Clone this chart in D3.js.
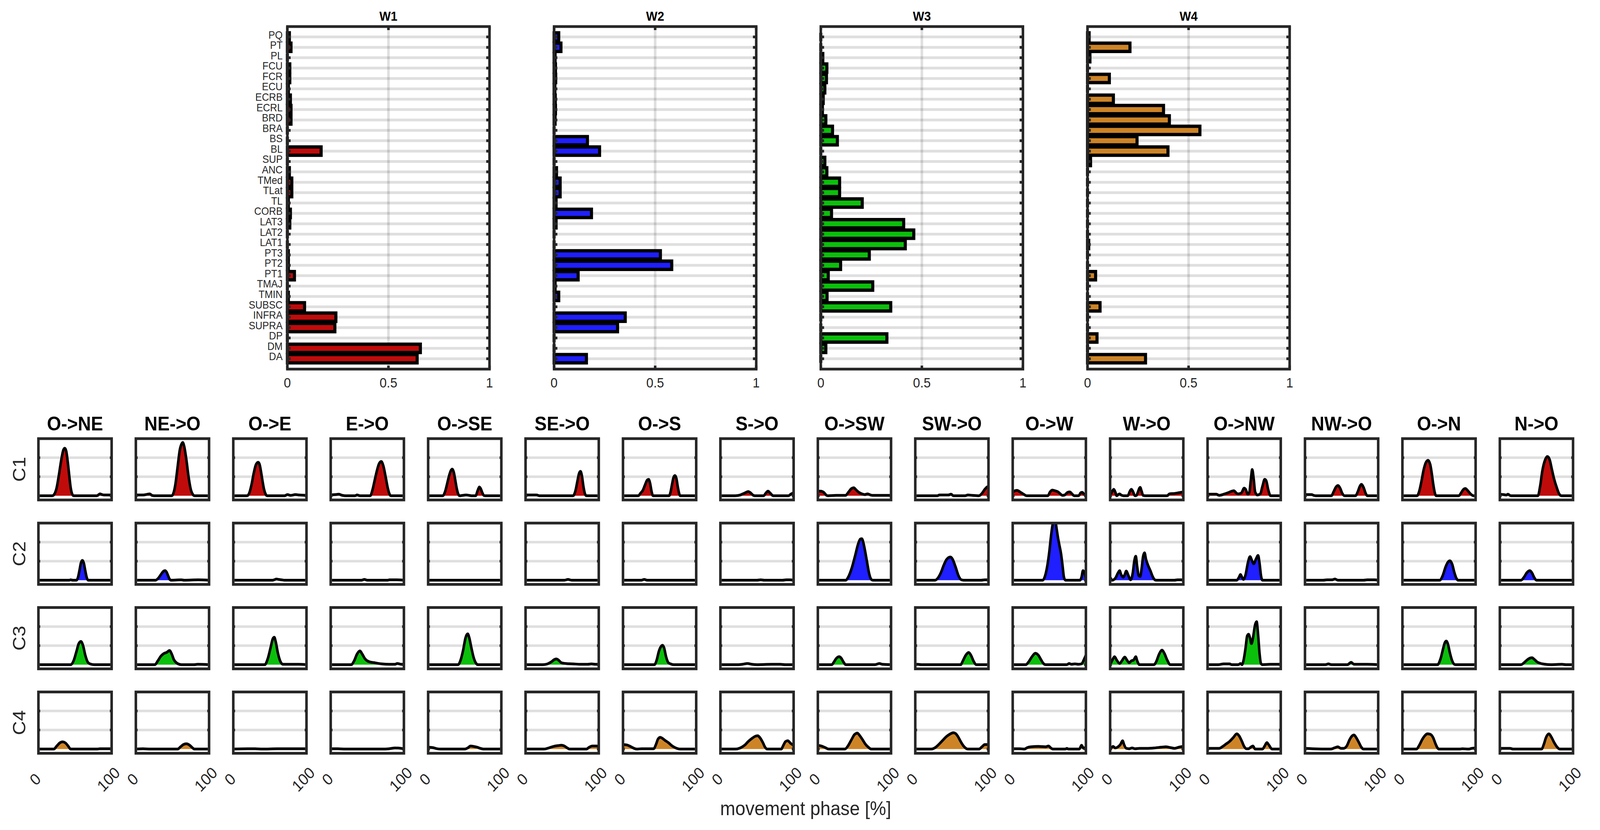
<!DOCTYPE html>
<html>
<head>
<meta charset="utf-8">
<script src="https://cdn.jsdelivr.net/npm/d3@7/dist/d3.min.js"></script>
<style>
  html, body { margin: 0; padding: 0; background: #fff; overflow: hidden; }
  #chart { width: 100vw; height: 100vh; }
  svg { display: block; }
  text { font-family: "Liberation Sans", Arial, sans-serif; }
</style>
</head>
<body>
<div id="chart"></div>
<script>
// muscle weights of the four synergies
var muscles = ["PQ", "PT", "PL", "FCU", "FCR", "ECU", "ECRB", "ECRL", "BRD", "BRA", "BS", "BL",
    "SUP", "ANC", "TMed", "TLat", "TL", "CORB", "LAT3", "LAT2", "LAT1", "PT3", "PT2", "PT1",
    "TMAJ", "TMIN", "SUBSC", "INFRA", "SUPRA", "DP", "DM", "DA"];
var weightTitles = ["W1", "W2", "W3", "W4"];
var W1 = [0.01, 0.018, 0, 0.012, 0.012, 0.005, 0.015, 0.018, 0.018, 0, 0, 0.167,
    0, 0.01, 0.022, 0.022, 0.005, 0.015, 0.012, 0, 0, 0.005, 0.005, 0.035,
    0, 0.005, 0.085, 0.24, 0.235, 0, 0.658, 0.642];
var W2 = [0.023, 0.034, 0.005, 0.007, 0.008, 0.004, 0.006, 0.007, 0.005, 0, 0.165, 0.225,
    0, 0.012, 0.03, 0.03, 0.01, 0.185, 0.01, 0, 0, 0.526, 0.582, 0.119,
    0.005, 0.023, 0, 0.352, 0.314, 0, 0, 0.16];
var W3 = [0, 0, 0.01, 0.03, 0.028, 0.02, 0.012, 0.008, 0.025, 0.058, 0.082, 0,
    0.02, 0.03, 0.093, 0.093, 0.205, 0.053, 0.41, 0.46, 0.418, 0.24, 0.098, 0.037,
    0.257, 0.031, 0.346, 0, 0, 0.327, 0.025, 0];
var W4 = [0.008, 0.21, 0.012, 0, 0.108, 0, 0.128, 0.376, 0.405, 0.556, 0.245, 0.398,
    0.015, 0, 0, 0, 0, 0, 0, 0, 0.006, 0, 0, 0.04,
    0, 0, 0.062, 0, 0, 0.047, 0, 0.287];
var weightTicks = [0, 0.5, 1];

var synergyColors = ["#c00b0b", "#1f1fff", "#0cbf0c", "#cd8427"];
var synergyLabels = ["C1", "C2", "C3", "C4"];
var directions = ["O->NE", "NE->O", "O->E", "E->O", "O->SE", "SE->O", "O->S", "S->O",
    "O->SW", "SW->O", "O->W", "W->O", "O->NW", "NW->O", "O->N", "N->O"];
var phaseTicks = [0, 100];
var activationGrid = [0, 0.5, 1];

// activation profiles, [phase %, activation] read per direction
var C1 = [
    [[0,0],[19,0],[22,0.05],[25,0.22],[28,0.55],[31,0.92],[34,1.2],[36,1.25],[38,1.17],[40,0.9],[42,0.55],[44,0.22],[46,0.05],[48,0],[80,0],[84,0.05],[87,0.03],[90,0.02],[100,0.02]],
    [[0,0.02],[10,0.02],[16,0.04],[19,0.05],[22,0.01],[25,0],[49,0],[51,0.05],[54,0.3],[57,0.75],[60,1.2],[63,1.38],[64,1.4],[66,1.3],[69,0.95],[72,0.5],[75,0.17],[78,0.03],[80,0],[100,0]],
    [[0,0],[19,0],[22,0.08],[25,0.3],[28,0.6],[31,0.82],[34,0.88],[36,0.82],[38,0.62],[40,0.38],[42,0.17],[44,0.05],[46,0],[70,0],[74,0.03],[78,0.01],[85,0.03],[90,0.02],[100,0.01]],
    [[0,0.02],[6,0.03],[11,0.04],[16,0.01],[20,0],[33,0],[36,0.02],[40,0],[54,0],[57,0.15],[60,0.4],[63,0.65],[66,0.84],[69,0.9],[72,0.78],[75,0.5],[78,0.2],[80,0.06],[82,0],[100,0]],
    [[0,0],[20,0],[23,0.1],[26,0.32],[29,0.55],[31,0.66],[33,0.7],[35,0.62],[37,0.42],[39,0.2],[41,0.05],[43,0],[47,0.01],[52,0.02],[56,0.01],[60,0],[65,0],[67,0.1],[69,0.2],[70,0.23],[72,0.18],[74,0.08],[76,0.01],[78,0],[100,0]],
    [[0,0.02],[15,0.02],[19,0],[65,0],[68,0.12],[71,0.4],[73,0.58],[75,0.64],[77,0.52],[79,0.25],[81,0.06],[83,0],[100,0]],
    [[0,0],[21,0],[24,0.07],[27,0.14],[30,0.28],[33,0.41],[35,0.43],[37,0.33],[39,0.12],[41,0],[63,0],[65,0.1],[67,0.3],[69,0.48],[71,0.53],[73,0.45],[75,0.22],[77,0.04],[78,0],[100,0]],
    [[0,0],[20,0],[27,0.02],[33,0.07],[38,0.11],[41,0.08],[45,0.01],[47,0],[59,0],[62,0.07],[65,0.12],[68,0.07],[71,0.01],[72,0],[93,0],[96,0.04],[100,0.08]],
    [[0,0.12],[4,0.12],[8,0.09],[12,0.01],[14,0],[25,0.01],[38,0.01],[42,0.1],[46,0.19],[49,0.21],[52,0.16],[56,0.09],[60,0.05],[64,0.03],[68,0.05],[72,0.02],[75,0.01],[100,0.01]],
    [[0,0],[30,0],[33,0.02],[45,0.02],[49,0.04],[52,0],[68,0],[72,0.02],[78,0.01],[87,0],[91,0.06],[95,0.17],[98,0.23],[100,0.25]],
    [[0,0.1],[3,0.13],[6,0.14],[10,0.1],[15,0.04],[19,0],[48,0],[51,0.1],[54,0.15],[58,0.13],[62,0.1],[65,0.05],[68,0.01],[71,0.02],[75,0.09],[78,0.1],[81,0.05],[84,0],[90,0],[93,0.08],[95,0.09],[98,0.03],[100,0.02]],
    [[0,0],[3,0.12],[5,0.17],[7,0.1],[9,0],[11,0.03],[13,0.05],[15,0.02],[18,0],[24,0],[27,0.12],[29,0.17],[31,0.12],[34,0],[36,0.01],[38,0.1],[40,0.2],[41,0.22],[43,0.12],[45,0.01],[48,0],[78,0],[81,0.05],[88,0.06],[94,0.08],[100,0.1]],
    [[0,0.04],[6,0.04],[12,0.04],[16,0.01],[22,0.04],[28,0.08],[33,0.12],[36,0.13],[40,0.06],[42,0.05],[46,0.07],[50,0.2],[52,0.17],[55,0.04],[57,0.08],[59,0.4],[61,0.69],[63,0.45],[65,0.1],[68,0.02],[72,0.05],[75,0.25],[78,0.43],[80,0.4],[83,0.15],[86,0],[100,0]],
    [[0,0.03],[5,0.03],[9,0.03],[12,0.01],[15,0],[36,0],[39,0.1],[42,0.22],[45,0.27],[48,0.2],[51,0.06],[54,0],[69,0],[72,0.1],[75,0.25],[77,0.3],[80,0.22],[83,0.06],[85,0],[100,0]],
    [[0,0],[20,0],[23,0.12],[26,0.38],[29,0.68],[32,0.87],[35,0.93],[38,0.82],[40,0.6],[42,0.32],[44,0.1],[46,0],[77,0],[80,0.07],[83,0.16],[86,0.19],[89,0.14],[93,0.05],[97,0],[100,0]],
    [[0,0.04],[5,0.03],[9,0.02],[11,0.04],[13,0.02],[15,0],[52,0],[55,0.25],[58,0.65],[62,0.95],[65,1.03],[68,0.95],[71,0.7],[74,0.45],[78,0.2],[81,0.05],[84,0],[100,0]]
];
var C2 = [
    [[0,0],[42,0],[44,0.01],[47,0],[52,0],[54,0.07],[56,0.25],[58,0.45],[60,0.52],[62,0.45],[64,0.25],[66,0.07],[68,0],[100,0]],
    [[0,0],[27,0],[31,0.06],[35,0.17],[38,0.24],[40,0.25],[42,0.21],[44,0.12],[46,0.03],[48,0],[62,0.01],[66,0],[85,0.01],[100,0]],
    [[0,0],[54,0],[57,0.02],[59,0.03],[62,0.02],[66,0.01],[70,0],[100,0]],
    [[0,0],[42,0],[46,0.02],[50,0],[78,0],[80,0.01],[90,0.01],[100,0]],
    [[0,0],[100,0]],
    [[0,0],[53,0],[58,0.02],[63,0],[100,0]],
    [[0,0],[25,0],[29,0.02],[33,0],[100,0]],
    [[0,0],[50,0],[55,0.01],[60,0],[85,0],[90,0.01],[95,0.01],[100,0]],
    [[0,0],[38,0],[42,0.1],[46,0.3],[51,0.65],[55,0.95],[58,1.08],[60,1.09],[62,1.0],[64,0.82],[67,0.5],[70,0.18],[73,0.02],[75,0],[100,0]],
    [[0,0],[27,0],[31,0.06],[35,0.2],[39,0.4],[43,0.55],[48,0.61],[51,0.55],[55,0.35],[59,0.12],[63,0.01],[66,0],[90,0],[95,0.01],[100,0.01]],
    [[0,0],[41,0],[44,0.1],[47,0.35],[50,0.75],[52,1.1],[54,1.4],[56,1.58],[58,1.58],[60,1.35],[62,1.1],[64,0.9],[66,0.7],[68,0.4],[70,0.08],[72,0],[92,0],[94,0.08],[96,0.25],[98,0.2],[100,0.05]],
    [[0,0.08],[3,0],[7,0.05],[11,0.2],[13,0.25],[15,0.15],[18,0.08],[20,0.15],[22,0.24],[25,0.12],[28,0.01],[31,0.2],[33,0.5],[35,0.63],[37,0.35],[39,0.12],[41,0.1],[43,0.3],[45,0.62],[47,0.72],[49,0.55],[52,0.38],[55,0.25],[58,0.1],[61,0.01],[63,0],[88,0],[92,0.01],[100,0.01]],
    [[0,0],[40,0],[43,0.08],[45,0.15],[47,0.08],[49,0.02],[52,0.15],[55,0.45],[58,0.62],[61,0.5],[63,0.43],[66,0.55],[69,0.65],[71,0.45],[73,0.12],[75,0],[100,0]],
    [[0,0],[25,0],[30,0.01],[37,0.01],[41,0.03],[45,0],[80,0],[85,0.01],[95,0.01],[100,0]],
    [[0,0],[51,0],[55,0.12],[59,0.35],[62,0.47],[65,0.51],[68,0.42],[71,0.2],[74,0.04],[76,0],[100,0]],
    [[0,0],[29,0],[33,0.08],[37,0.2],[41,0.25],[44,0.19],[47,0.07],[50,0],[100,0]]
];
var C3 = [
    [[0,0],[44,0],[48,0.1],[52,0.35],[55,0.55],[58,0.61],[61,0.5],[64,0.25],[68,0.05],[72,0.01],[76,0],[100,0]],
    [[0,0],[26,0],[30,0.1],[34,0.22],[38,0.29],[42,0.32],[46,0.37],[49,0.28],[52,0.13],[56,0.04],[62,0],[80,0],[84,0.01],[100,0]],
    [[0,0],[43,0],[47,0.15],[51,0.45],[54,0.68],[56,0.72],[58,0.6],[61,0.3],[64,0.1],[68,0.01],[80,0.01],[90,0.01],[100,0]],
    [[0,0],[28,0],[32,0.1],[36,0.28],[40,0.36],[43,0.28],[47,0.15],[52,0.08],[60,0.05],[70,0.02],[80,0.01],[88,0.01],[91,0.03],[96,0.01],[100,0.01]],
    [[0,0],[41,0],[44,0.1],[48,0.4],[51,0.7],[54,0.81],[56,0.72],[59,0.45],[62,0.2],[65,0.05],[68,0],[100,0]],
    [[0,0],[24,0],[30,0.02],[35,0.07],[39,0.13],[42,0.15],[45,0.12],[49,0.05],[55,0.03],[65,0.02],[75,0.01],[85,0.01],[90,0.02],[95,0.01],[100,0.01]],
    [[0,0],[43,0],[46,0.12],[49,0.35],[52,0.48],[54,0.51],[56,0.45],[59,0.2],[62,0.05],[65,0.02],[69,0],[100,0]],
    [[0,0],[25,0],[30,0.01],[37,0.03],[43,0.01],[50,0],[70,0.01],[82,0.01],[88,0],[100,0]],
    [[0,0],[19,0],[22,0.07],[25,0.16],[29,0.21],[32,0.17],[35,0.07],[38,0],[78,0],[84,0.03],[88,0.01],[100,0]],
    [[0,0],[3,0.01],[8,0],[62,0],[65,0.1],[69,0.25],[73,0.32],[76,0.25],[80,0.08],[83,0],[100,0]],
    [[0,0],[18,0],[22,0.08],[26,0.2],[31,0.3],[35,0.25],[39,0.12],[42,0.03],[45,0],[74,0],[77,0.03],[80,0.01],[85,0.02],[90,0.01],[94,0.02],[97,0.12],[100,0.25]],
    [[0,0],[3,0.12],[6,0.21],[9,0.12],[13,0.03],[16,0.1],[20,0.2],[23,0.12],[26,0.05],[29,0.1],[32,0.12],[35,0.21],[37,0.1],[40,0],[60,0],[63,0.08],[67,0.28],[71,0.38],[74,0.3],[78,0.12],[82,0],[100,0]],
    [[0,0],[15,0],[22,0.02],[30,0.02],[33,0],[42,0],[45,0.03],[47,0],[49,0.1],[52,0.45],[54,0.75],[56,0.8],[58,0.7],[60,0.55],[62,0.7],[65,1.05],[67,1.13],[69,0.8],[71,0.3],[73,0.03],[75,0],[85,0.01],[100,0.01]],
    [[0,0],[28,0],[32,0.02],[36,0],[58,0],[63,0.06],[67,0.01],[75,0.01],[85,0.01],[100,0]],
    [[0,0],[48,0],[52,0.15],[56,0.45],[58,0.58],[60,0.62],[62,0.55],[65,0.3],[68,0.1],[72,0],[100,0]],
    [[0,0],[29,0],[33,0.05],[37,0.12],[41,0.17],[44,0.18],[47,0.14],[51,0.07],[56,0.03],[62,0.01],[70,0],[85,0.01],[90,0],[100,0]]
];
var C4 = [
    [[0,0],[21,0],[25,0.08],[29,0.16],[33,0.19],[37,0.16],[41,0.07],[44,0],[80,0],[84,0.01],[100,0.01]],
    [[0,0],[10,0.01],[20,0],[57,0],[61,0.06],[65,0.12],[69,0.14],[73,0.11],[77,0.04],[80,0],[100,0]],
    [[0,0],[20,0.01],[30,0.01],[40,0],[60,0.01],[80,0.01],[100,0.01]],
    [[0,0.01],[10,0.01],[20,0],[70,0],[80,0.01],[88,0.03],[96,0.02],[100,0.01]],
    [[0,0.05],[6,0.04],[12,0.01],[17,0],[50,0],[54,0.03],[58,0.08],[62,0.07],[67,0.05],[71,0.02],[76,0],[100,0]],
    [[0,0],[25,0],[30,0.02],[38,0.07],[44,0.09],[49,0.1],[53,0.08],[57,0.03],[60,0],[83,0],[87,0.05],[91,0.08],[97,0.08],[100,0.07]],
    [[0,0.12],[5,0.11],[10,0.07],[15,0.02],[19,0],[25,0.01],[42,0.01],[45,0.12],[48,0.27],[51,0.31],[54,0.28],[58,0.22],[62,0.17],[66,0.1],[70,0.05],[75,0.01],[78,0],[100,0]],
    [[0,0],[20,0],[27,0.03],[33,0.1],[38,0.2],[43,0.28],[48,0.34],[51,0.35],[54,0.3],[58,0.17],[61,0.05],[64,0],[83,0],[86,0.1],[89,0.2],[92,0.22],[96,0.15],[100,0.1]],
    [[0,0.1],[5,0.08],[10,0.04],[15,0],[37,0],[41,0.08],[46,0.25],[50,0.38],[54,0.42],[57,0.36],[61,0.25],[65,0.13],[69,0.05],[73,0],[100,0]],
    [[0,0],[22,0],[28,0.05],[33,0.14],[38,0.24],[42,0.32],[47,0.39],[52,0.43],[55,0.41],[58,0.34],[62,0.2],[66,0.08],[70,0.01],[72,0],[87,0],[91,0.06],[95,0.12],[100,0.12]],
    [[0,0.01],[10,0.01],[16,0],[20,0.04],[25,0.06],[35,0.07],[45,0.06],[49,0.08],[52,0.03],[55,0],[72,0],[74,0.02],[76,0],[91,0],[94,0.1],[97,0.02],[100,0.06]],
    [[0,0],[2,0.04],[4,0.07],[7,0.03],[10,0.05],[14,0.12],[17,0.22],[19,0.12],[22,0.02],[26,0.01],[30,0.03],[34,0.01],[40,0.02],[50,0.02],[60,0.03],[70,0.05],[76,0.06],[82,0.04],[88,0.02],[94,0.05],[100,0.07]],
    [[0,0.02],[10,0.02],[16,0.02],[20,0.06],[25,0.13],[30,0.2],[35,0.3],[40,0.4],[43,0.35],[47,0.2],[50,0.07],[53,0.01],[56,0.01],[59,0.05],[62,0.08],[65,0],[75,0],[78,0.08],[81,0.17],[84,0.1],[88,0],[100,0]],
    [[0,0.02],[10,0.01],[35,0],[40,0.03],[45,0.06],[49,0.02],[53,0.02],[57,0.08],[61,0.25],[64,0.34],[67,0.37],[70,0.3],[74,0.16],[77,0.05],[80,0],[100,0]],
    [[0,0],[19,0],[23,0.1],[27,0.25],[31,0.36],[34,0.4],[38,0.39],[42,0.3],[45,0.15],[48,0.03],[50,0],[78,0],[82,0.01],[90,0],[95,0.02],[100,0.03]],
    [[0,0.02],[8,0.02],[14,0.02],[18,0],[57,0],[60,0.12],[63,0.3],[67,0.4],[70,0.33],[74,0.18],[78,0.06],[82,0],[100,0]]
];

var weights = [W1, W2, W3, W4];
var activations = [C1, C2, C3, C4];

var width = 4393;
var height = 2125;
var axisColor = '#262626';

// drawn in a fixed 4393x2125 frame that is scaled to the window
var svg = d3.select('#chart')
    .append('svg')
    .attr('viewBox', '0 0 ' + width + ' ' + height)
    .attr('preserveAspectRatio', 'none')
    .attr('width', '100%')
    .attr('height', '100%');

svg.append('rect')
    .attr('width', width)
    .attr('height', height)
    .attr('fill', '#fff');

function weightPanel(values, title, color, x0, showLabels) {
    var w = 555, top = 68, bottom = 945, tick = 9;
    var x = d3.scaleLinear().domain([0, 1]).range([x0, x0 + w]);
    var y = d3.scaleLinear().domain([0, muscles.length + 1]).range([top, bottom]);
    var barH = 0.8 * (y(1) - y(0));
    var g = svg.append('g');

    g.selectAll('.hgrid')
        .data(muscles)
    .enter().append('line')
        .attr('x1', x(0)).attr('x2', x(1))
        .attr('y1', function (d, i) { return y(i + 1); })
        .attr('y2', function (d, i) { return y(i + 1); })
        .attr('stroke', axisColor).attr('stroke-opacity', 0.15).attr('stroke-width', 7);

    g.selectAll('.vgrid')
        .data(weightTicks.slice(1, -1))
    .enter().append('line')
        .attr('x1', function (d) { return x(d); })
        .attr('x2', function (d) { return x(d); })
        .attr('y1', top).attr('y2', bottom)
        .attr('stroke', axisColor).attr('stroke-opacity', 0.15).attr('stroke-width', 7);

    // zero-length bars still show their edge, so draw them as paths
    g.selectAll('.bar')
        .data(values)
    .enter().append('path')
        .attr('d', function (d, i) {
            var yc = y(i + 1);
            return 'M' + x(0) + ',' + (yc - barH / 2) + 'H' + x(d) + 'V' + (yc + barH / 2) + 'H' + x(0) + 'Z';
        })
        .attr('fill', color)
        .attr('stroke', '#000')
        .attr('stroke-width', 8.5);

    g.selectAll('.ltick')
        .data(muscles)
    .enter().append('path')
        .attr('d', function (d, i) {
            var yc = y(i + 1);
            return 'M' + x(0) + ',' + yc + 'h' + tick + 'M' + x(1) + ',' + yc + 'h' + (-tick);
        })
        .attr('stroke', axisColor).attr('stroke-width', 7);

    g.selectAll('.xtick')
        .data(weightTicks)
    .enter().append('path')
        .attr('d', function (d) {
            return 'M' + x(d) + ',' + top + 'v' + tick + 'M' + x(d) + ',' + bottom + 'v' + (-tick);
        })
        .attr('stroke', axisColor).attr('stroke-width', 7);

    g.append('rect')
        .attr('x', x0).attr('y', top)
        .attr('width', w).attr('height', bottom - top)
        .attr('fill', 'none')
        .attr('stroke', axisColor)
        .attr('stroke-width', 7);

    g.selectAll('.xlabel')
        .data(weightTicks)
    .enter().append('text')
        .attr('x', function (d) { return x(d); })
        .attr('y', 992)
        .attr('text-anchor', 'middle')
        .attr('font-size', 35)
        .attr('fill', axisColor)
        .text(function (d) { return d; });

    g.append('text')
        .attr('x', x0 + w / 2)
        .attr('y', 53)
        .attr('text-anchor', 'middle')
        .attr('font-size', 33)
        .attr('font-weight', 'bold')
        .attr('fill', '#000')
        .text(title);

    if (showLabels) {
        g.selectAll('.ylabel')
            .data(muscles)
        .enter().append('text')
            .attr('x', x0 - 13)
            .attr('y', function (d, i) { return y(i + 1) + 4; })
            .attr('text-anchor', 'end')
            .attr('font-size', 27)
            .attr('fill', axisColor)
            .text(function (d) { return d; });
    }
}

function activationPanel(points, color, col, row) {
    var L = 105.5 + col * 267.5, W = 201;
    var T = 1123 + row * 216.2, H = 157;
    var x = d3.scaleLinear().domain([0, 100]).range([L, L + W]);
    var y = d3.scaleLinear().domain([-0.11, 1.5]).range([T + H, T]);
    var id = 'clip-' + row + '-' + col;
    var g = svg.append('g');

    g.append('clipPath').attr('id', id)
        .append('rect').attr('x', L).attr('y', T).attr('width', W).attr('height', H);

    g.selectAll('.grid')
        .data(activationGrid.slice(1))
    .enter().append('line')
        .attr('x1', L).attr('x2', L + W)
        .attr('y1', function (d) { return y(d); })
        .attr('y2', function (d) { return y(d); })
        .attr('stroke', axisColor).attr('stroke-opacity', 0.15).attr('stroke-width', 6.5);

    var area = d3.area()
        .x(function (d) { return x(d[0]); })
        .y0(y(0))
        .y1(function (d) { return y(d[1]); })
        .curve(d3.curveMonotoneX);

    var line = d3.line()
        .x(function (d) { return x(d[0]); })
        .y(function (d) { return y(d[1]); })
        .curve(d3.curveMonotoneX);

    var plot = g.append('g').attr('clip-path', 'url(#' + id + ')');
    plot.append('path')
        .attr('d', area(points))
        .attr('fill', color);
    plot.append('path')
        .attr('d', line(points))
        .attr('fill', 'none')
        .attr('stroke', '#000')
        .attr('stroke-width', 7)
        .attr('stroke-linejoin', 'round');

    g.selectAll('.tick')
        .data(activationGrid)
    .enter().append('path')
        .attr('d', function (d) {
            return 'M' + L + ',' + y(d) + 'h5M' + (L + W) + ',' + y(d) + 'h-5';
        })
        .attr('stroke', axisColor).attr('stroke-width', 6.5);

    g.append('rect')
        .attr('x', L).attr('y', T)
        .attr('width', W).attr('height', H)
        .attr('fill', 'none')
        .attr('stroke', axisColor)
        .attr('stroke-width', 7);

    if (row === 0) {
        g.append('text')
            .attr('x', L + W / 2)
            .attr('y', 1102)
            .attr('text-anchor', 'middle')
            .attr('font-size', 50)
            .attr('font-weight', 'bold')
            .attr('fill', '#000')
            .text(directions[col]);
    }

    if (col === 0) {
        g.append('text')
            .attr('transform', 'translate(52,' + (T + H / 2) + ') rotate(-90)')
            .attr('text-anchor', 'middle')
            .attr('dominant-baseline', 'central')
            .attr('font-size', 50)
            .attr('fill', axisColor)
            .text(synergyLabels[row]);
    }

    if (row === activations.length - 1) {
        g.selectAll('.phase')
            .data(phaseTicks)
        .enter().append('text')
            .attr('transform', function (d) {
                return 'translate(' + (x(d) - 9) + ',1995) rotate(-45)';
            })
            .attr('text-anchor', 'middle')
            .attr('dominant-baseline', 'central')
            .attr('font-size', 41)
            .attr('fill', axisColor)
            .text(function (d) { return d; });
    }
}

weights.forEach(function (values, i) {
    weightPanel(values, weightTitles[i], synergyColors[i], 789 + i * 732.3, i === 0);
});

activations.forEach(function (curves, r) {
    curves.forEach(function (points, c) {
        activationPanel(points, synergyColors[r], c, r);
    });
});

svg.append('text')
    .attr('x', 2212)
    .attr('y', 2087)
    .attr('text-anchor', 'middle')
    .attr('font-size', 50)
    .attr('fill', axisColor)
    .text('movement phase [%]');
</script>
</body>
</html>
